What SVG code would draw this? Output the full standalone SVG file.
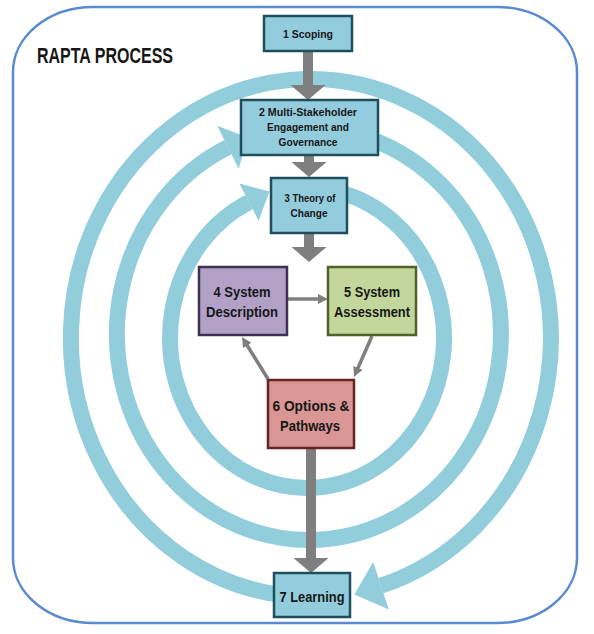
<svg xmlns="http://www.w3.org/2000/svg" width="594" height="634" viewBox="0 0 594 634">
  <style>
    .band { fill: none; stroke: #92CDDC; stroke-width: 16; }
    .bandhead { fill: #92CDDC; }
    .flow { fill: #7F7F7F; }
    .thin { stroke: #7F7F7F; stroke-width: 3.5; fill: none; marker-end: url(#ah); }
    .blue { fill: #93CDDD; stroke: #1F4F5C; stroke-width: 2.5; }
    .purple { fill: #B2A1C7; stroke: #3F3151; stroke-width: 2.5; }
    .green { fill: #C3D69B; stroke: #4F6228; stroke-width: 2.5; }
    .red { fill: #D99694; stroke: #632523; stroke-width: 2.5; }
    text { font-family: "Liberation Sans", Arial, sans-serif; font-weight: bold; fill: #161616; text-anchor: middle; }
  </style>
  <defs>
    <marker id="ah" viewBox="0 0 10 10" markerWidth="10" markerHeight="10" markerUnits="userSpaceOnUse" refX="2" refY="5" orient="auto">
      <path d="M0,0 L10,5 L0,10 z" fill="#7F7F7F"/>
    </marker>
  </defs>

  <rect id="frame" x="13" y="7" width="564" height="616" rx="80" ry="65" fill="#FFFFFF" stroke="#5A8AD0" stroke-width="2.5"/>
  <text id="title" x="105" y="63" font-size="22" textLength="136" lengthAdjust="spacingAndGlyphs">RAPTA PROCESS</text>

  <g id="cycles">
    <path class="band" d="M285,595.5 A240,259 0 1,1 381,585.7"/>
    <polygon class="bandhead" points="388.8,609.5 373.2,561.9 354.4,594.4"/>
    <path class="band" d="M370,138.7 A192,206 0 1,1 228,147.2"/>
    <polygon class="bandhead" points="217.3,125.7 238.7,168.7 247.7,137.4"/>
    <path class="band" d="M340,192.4 A137,150 0 1,1 249,202.1"/>
    <polygon class="bandhead" points="239.4,183.4 258.6,220.8 269.5,191.6"/>
  </g>

  <g id="connectors">
    <polygon class="flow" points="303,50 313,50 313,85 325.5,85 308,100 290.5,85 303,85"/>
    <polygon class="flow" points="304,154 314,154 314,162 326.5,162 309,177 291.5,162 304,162"/>
    <polygon class="flow" points="304,232 314,232 314,247 326.5,247 309,262 291.5,247 304,247"/>
    <polygon class="flow" points="306,447 316,447 316,558 328.5,558 311,573 293.5,558 306,558"/>
    <line class="thin" x1="287" y1="299" x2="320" y2="299"/>
    <line class="thin" x1="372" y1="336" x2="357.2" y2="369.7"/>
    <line class="thin" x1="268" y1="379" x2="246.2" y2="343.8"/>
  </g>

  <g id="n1">
    <rect class="blue" x="264" y="16" width="88" height="35"/>
    <text x="308" y="37.5" font-size="11" textLength="50" lengthAdjust="spacingAndGlyphs">1 Scoping</text>
  </g>
  <g id="n2">
    <rect class="blue" x="241" y="100" width="137" height="55"/>
    <text x="308" y="115.7" font-size="10" textLength="98" lengthAdjust="spacingAndGlyphs">2 Multi-Stakeholder</text>
    <text x="308" y="130.7" font-size="10" textLength="82" lengthAdjust="spacingAndGlyphs">Engagement and</text>
    <text x="308" y="146" font-size="10" textLength="59" lengthAdjust="spacingAndGlyphs">Governance</text>
  </g>
  <g id="n3">
    <rect class="blue" x="271" y="178" width="76" height="55"/>
    <text x="310" y="201.7" font-size="10.5" textLength="51" lengthAdjust="spacingAndGlyphs">3 Theory of</text>
    <text x="309" y="216.7" font-size="10.5" textLength="37" lengthAdjust="spacingAndGlyphs">Change</text>
  </g>
  <g id="n4">
    <rect class="purple" x="199" y="267" width="88" height="68"/>
    <text x="242" y="296.7" font-size="14.5" textLength="57" lengthAdjust="spacingAndGlyphs">4 System</text>
    <text x="242" y="317.3" font-size="14.5" textLength="72" lengthAdjust="spacingAndGlyphs">Description</text>
  </g>
  <g id="n5">
    <rect class="green" x="328" y="267" width="88" height="68"/>
    <text x="372" y="296.7" font-size="14.5" textLength="56" lengthAdjust="spacingAndGlyphs">5 System</text>
    <text x="372" y="317.3" font-size="14.5" textLength="76" lengthAdjust="spacingAndGlyphs">Assessment</text>
  </g>
  <g id="n6">
    <rect class="red" x="268" y="380" width="86" height="68"/>
    <text x="311" y="410.7" font-size="14.5" textLength="77" lengthAdjust="spacingAndGlyphs">6 Options &amp;</text>
    <text x="310" y="430.7" font-size="14.5" textLength="60" lengthAdjust="spacingAndGlyphs">Pathways</text>
  </g>
  <g id="n7">
    <rect class="blue" x="274" y="573" width="76" height="44"/>
    <text x="312" y="601.7" font-size="14" textLength="65" lengthAdjust="spacingAndGlyphs">7 Learning</text>
  </g>
</svg>
